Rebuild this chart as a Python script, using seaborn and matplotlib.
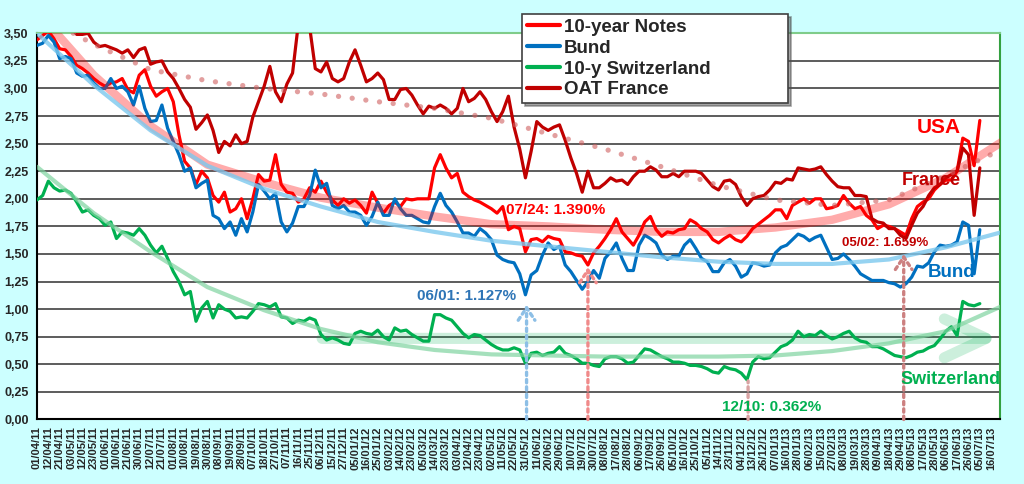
import numpy as np
import matplotlib
matplotlib.use("Agg")
import matplotlib.pyplot as plt
import seaborn as sns

# x axis labels, one every 7 trading days
tick_labels = [
    "01/04/11", "12/04/11", "21/04/11", "03/05/11", "12/05/11", "23/05/11", "01/06/11",
    "10/06/11", "21/06/11", "30/06/11", "12/07/11", "21/07/11", "01/08/11", "10/08/11",
    "19/08/11", "30/08/11", "08/09/11", "19/09/11", "28/09/11", "07/10/11", "18/10/11",
    "27/10/11", "07/11/11", "16/11/11", "25/11/11", "06/12/11", "15/12/11", "27/12/11",
    "05/01/12", "16/01/12", "25/01/12", "03/02/12", "14/02/12", "23/02/12", "05/03/12",
    "14/03/12", "23/03/12", "03/04/12", "12/04/12", "23/04/12", "02/05/12", "11/05/12",
    "22/05/12", "31/05/12", "11/06/12", "20/06/12", "29/06/12", "10/07/12", "19/07/12",
    "30/07/12", "08/08/12", "17/08/12", "28/08/12", "06/09/12", "17/09/12", "26/09/12",
    "05/10/12", "16/10/12", "25/10/12", "05/11/12", "14/11/12", "23/11/12", "04/12/12",
    "13/12/12", "26/12/12", "07/01/13", "16/01/13", "28/01/13", "06/02/13", "15/02/13",
    "27/02/13", "08/03/13", "19/03/13", "28/03/13", "09/04/13", "18/04/13", "29/04/13",
    "08/05/13", "17/05/13", "28/05/13", "06/06/13", "17/06/13", "26/06/13", "05/07/13",
    "16/07/13",
]

# yields (%), one reading every half label step
notes_us = [
    3.44, 3.48, 3.52, 3.45, 3.36, 3.35, 3.29, 3.21, 3.18, 3.14, 3.09, 3.05, 3.02, 3.05,
    3.06, 3.09, 2.99, 2.96, 3.12, 3.17, 3.02, 2.93, 2.97, 3.00, 2.88, 2.58, 2.34, 2.28,
    2.13, 2.25, 2.19, 2.03, 1.97, 2.06, 1.88, 1.91, 2.00, 1.82, 2.00, 2.22, 2.16, 2.17,
    2.40, 2.13, 2.06, 2.05, 1.97, 2.00, 2.10, 2.06, 2.16, 2.06, 1.99, 1.94, 2.00, 1.96,
    1.99, 1.94, 1.87, 2.06, 1.96, 1.87, 1.94, 1.97, 1.93, 2.00, 1.99, 2.00, 2.00, 2.00,
    2.28, 2.40, 2.28, 2.19, 2.23, 2.06, 2.02, 1.99, 1.97, 1.94, 1.91, 1.87, 1.93, 1.72,
    1.75,
    1.73, 1.52, 1.63, 1.64, 1.61, 1.66, 1.64, 1.63, 1.52, 1.51, 1.49, 1.48, 1.40, 1.51,
    1.57, 1.64, 1.72, 1.82, 1.70, 1.64, 1.58, 1.67, 1.79, 1.84, 1.72, 1.66, 1.70, 1.69,
    1.72, 1.73, 1.81, 1.78, 1.73, 1.70, 1.63, 1.60, 1.64, 1.67, 1.63, 1.61, 1.66,
    1.73, 1.77, 1.81, 1.85, 1.90, 1.90, 1.82, 1.94, 1.97, 2.00, 1.96, 2.00, 2.00, 1.91,
    1.92, 1.94, 2.03, 1.96, 1.91, 1.93, 1.85, 1.81, 1.73, 1.76, 1.75, 1.73, 1.70, 1.67,
    1.82, 1.93, 1.97, 2.00, 2.08, 2.13, 2.17, 2.17, 2.25, 2.55, 2.52, 2.30, 2.71,
]
bund = [
    3.39, 3.41, 3.48, 3.42, 3.27, 3.29, 3.27, 3.14, 3.11, 3.12, 3.05, 3.00, 3.00, 3.09,
    3.00, 3.02, 2.97, 2.85, 3.02, 2.82, 2.70, 2.71, 2.85, 2.64, 2.52, 2.40, 2.25, 2.28,
    2.10, 2.14, 2.17, 1.85, 1.82, 1.73, 1.79, 1.67, 1.82, 1.70, 1.88, 2.13, 2.07, 2.00,
    2.05, 1.79, 1.70, 1.78, 1.93, 1.93, 2.03, 2.26, 2.10, 2.14, 1.94, 1.91, 1.94, 1.88,
    1.88, 1.85, 1.76, 1.84, 1.97, 1.85, 1.85, 2.00, 1.91, 1.85, 1.85, 1.82, 1.79, 1.78,
    1.93, 2.05, 1.94, 1.88, 1.79, 1.69, 1.69, 1.66, 1.73, 1.69, 1.63, 1.49, 1.45, 1.43,
    1.42,
    1.32, 1.13, 1.31, 1.35, 1.49, 1.60, 1.54, 1.57, 1.40, 1.34, 1.26, 1.18, 1.25, 1.35,
    1.28, 1.46, 1.52, 1.60, 1.46, 1.35, 1.35, 1.58, 1.67, 1.64, 1.60, 1.49, 1.45, 1.48,
    1.48, 1.58, 1.63, 1.55, 1.46, 1.43, 1.34, 1.34, 1.42, 1.45, 1.39, 1.29, 1.32,
    1.42, 1.41, 1.39, 1.40, 1.51, 1.56, 1.58, 1.63, 1.68, 1.66, 1.62, 1.65, 1.67, 1.56,
    1.45, 1.46, 1.50, 1.45, 1.39, 1.32, 1.29, 1.26, 1.26, 1.26, 1.24, 1.23, 1.20, 1.23,
    1.29, 1.39, 1.38, 1.42, 1.52, 1.58, 1.57, 1.58, 1.61, 1.79, 1.76, 1.32, 1.72,
]
swiss = [
    1.99, 2.03, 2.16, 2.10, 2.07, 2.08, 2.05, 1.97, 1.88, 1.90, 1.85, 1.82, 1.76, 1.79,
    1.64, 1.70, 1.69, 1.67, 1.73, 1.67, 1.58, 1.51, 1.57, 1.46, 1.34, 1.25, 1.13, 1.16,
    0.89, 1.01, 1.07, 0.92, 1.04, 1.00, 0.98, 0.92, 0.93, 0.92, 0.98, 1.05, 1.04, 1.02,
    1.05, 0.93, 0.92, 0.87, 0.90, 0.89, 0.92, 0.90, 0.77, 0.72, 0.74, 0.72, 0.69, 0.68,
    0.78, 0.80, 0.78, 0.77, 0.81, 0.75, 0.72, 0.83, 0.80, 0.81, 0.77, 0.74, 0.71, 0.71,
    0.95, 0.95, 0.92, 0.90, 0.84, 0.78, 0.74, 0.77, 0.76, 0.72, 0.68, 0.65, 0.63, 0.63,
    0.65,
    0.63, 0.51, 0.60, 0.61, 0.58, 0.60, 0.61, 0.66, 0.60, 0.58, 0.55, 0.51, 0.51, 0.49,
    0.48, 0.55, 0.57, 0.57, 0.55, 0.51, 0.52, 0.58, 0.64, 0.63, 0.60, 0.57, 0.55, 0.52,
    0.52, 0.51, 0.49, 0.49, 0.48, 0.46, 0.43, 0.42, 0.48, 0.46, 0.45, 0.42, 0.36,
    0.52, 0.57, 0.55, 0.56, 0.61, 0.66, 0.68, 0.72, 0.80, 0.75, 0.77, 0.76, 0.80, 0.76,
    0.73, 0.75, 0.78, 0.80, 0.74, 0.71, 0.70, 0.66, 0.66, 0.64, 0.61, 0.58, 0.57, 0.56,
    0.58, 0.61, 0.62, 0.65, 0.67, 0.73, 0.80, 0.84, 0.76, 1.07, 1.04, 1.03, 1.05,
]
oat_france = [
    3.62, 3.66, 3.70, 3.66, 3.62, 3.60, 3.55, 3.49, 3.49, 3.50, 3.42, 3.38, 3.39, 3.37,
    3.35, 3.32, 3.35, 3.28, 3.35, 3.37, 3.22, 3.24, 3.25, 3.15, 3.09, 3.00, 2.90, 2.83,
    2.63, 2.69, 2.76, 2.62, 2.42, 2.52, 2.48, 2.58, 2.50, 2.52, 2.74, 2.88, 3.02, 3.20,
    2.97, 2.88, 3.04, 3.14, 3.58, 3.62, 3.56, 3.18, 3.15, 3.24, 3.09, 3.06, 3.09, 3.24,
    3.35, 3.21, 3.06, 3.09, 3.14, 3.08, 2.90, 2.90, 2.99, 3.00, 2.94, 2.85, 2.77, 2.84,
    2.82, 2.85, 2.82, 2.77, 2.82, 3.00, 2.88, 2.91, 2.97, 2.90, 2.79, 2.70, 2.79, 2.93,
    2.65,
    2.45, 2.19, 2.43, 2.70, 2.65, 2.62, 2.65, 2.67, 2.53, 2.37, 2.23, 2.06, 2.25, 2.10,
    2.10, 2.14, 2.19, 2.16, 2.17, 2.13, 2.20, 2.25, 2.25, 2.29, 2.26, 2.20, 2.20, 2.23,
    2.20, 2.25, 2.25, 2.25, 2.23, 2.17, 2.11, 2.08, 2.16, 2.17, 2.13, 2.02, 1.94,
    2.00, 2.02, 2.03, 2.08, 2.15, 2.14, 2.18, 2.17, 2.28, 2.27, 2.26, 2.27, 2.29, 2.22,
    2.16, 2.11, 2.10, 2.10, 2.03, 2.03, 2.02, 1.82, 1.79, 1.78, 1.73, 1.73, 1.67, 1.64,
    1.76, 1.87, 1.93, 2.03, 2.10, 2.13, 2.19, 2.22, 2.25, 2.46, 2.40, 1.85, 2.28,
]

# trend curves, read every 5 label steps
notes_trend = [3.70, 3.12, 2.66, 2.31, 2.15, 2.01, 1.92, 1.84, 1.77, 1.75, 1.72, 1.70,
               1.70, 1.74, 1.81, 1.95, 2.19, 2.52]
bund_trend = [3.50, 3.03, 2.62, 2.30, 2.09, 1.93, 1.79, 1.70, 1.62, 1.57, 1.52, 1.47,
              1.43, 1.41, 1.41, 1.45, 1.56, 1.70]
swiss_trend = [2.29, 1.87, 1.52, 1.20, 0.99, 0.82, 0.70, 0.63, 0.59, 0.58, 0.57, 0.57,
               0.57, 0.58, 0.62, 0.69, 0.80, 1.03]
oat_trend = [3.68, 3.40, 3.17, 3.07, 3.00, 2.95, 2.88, 2.82, 2.73, 2.59, 2.45, 2.29,
             2.12, 1.99, 1.94, 1.99, 2.21, 2.45]

sns.set_theme(style="white")
plt.rcParams["font.family"] = ["Liberation Sans", "DejaVu Sans"]

RED, BLUE, GREEN, DARKRED = "#FF0000", "#0070C0", "#00B050", "#C00000"

fig = plt.figure(figsize=(10.24, 4.84), dpi=100)
fig.patch.set_facecolor("#CCFFFF")
ax = fig.add_axes([0.0361, 0.1333, 0.9404, 0.7979])
ax.set_facecolor("white")

x = np.arange(len(notes_us)) * 0.5
xt = np.arange(len(notes_trend)) * 5.0

series = [("10-year Notes", notes_us, RED), ("Bund", bund, BLUE),
          ("10-y Switzerland", swiss, GREEN), ("OAT France", oat_france, DARKRED)]
for name, vals, col in series:
    sns.lineplot(x=x, y=vals, ax=ax, color=col, linewidth=2.3, label=name,
                 legend=False, zorder=3)
handles = ax.get_lines()[:4]
labels = [s[0] for s in series]

# trendlines
sns.lineplot(x=xt, y=notes_trend, ax=ax, color=RED, alpha=0.33, linewidth=6,
             legend=False, zorder=4)
sns.lineplot(x=xt, y=bund_trend, ax=ax, color="#7CC8EE", alpha=0.8, linewidth=3,
             legend=False, zorder=4)
sns.lineplot(x=xt, y=swiss_trend, ax=ax, color="#7FD4A0", alpha=0.7, linewidth=3,
             legend=False, zorder=4)
sns.lineplot(x=xt, y=oat_trend, ax=ax, color="#D06060", alpha=0.6, linewidth=3.8,
             linestyle=(0, (0.01, 2.6)), dash_capstyle="round", legend=False, zorder=4)

# big green arrow
ax.annotate("", xy=(84.7, 0.735), xytext=(25.1, 0.735),
            arrowprops=dict(arrowstyle="->,head_length=1.5,head_width=0.7", lw=8,
                            color=GREEN, alpha=0.2, shrinkA=0, shrinkB=0,
                            mutation_scale=20), zorder=2)

# dotted markers for the lows
def low_marker(xpos, ytop, col, head=True):
    style = "->,head_length=0.45,head_width=0.3" if head else "-"
    ax.annotate("", xy=(xpos, ytop), xytext=(xpos, 0),
                arrowprops=dict(arrowstyle=style, linestyle=(0, (1, 1.2)), lw=2.4,
                                color=col, shrinkA=0, shrinkB=0, mutation_scale=20),
                zorder=5, annotation_clip=False)

low_marker(43.1, 1.04, "#8DBFE6")
low_marker(48.5, 1.38, "#F08A8A")
low_marker(62.6, 0.35, "#D9A3A3", head=False)
low_marker(76.3, 1.50, "#CC8080")

txt = dict(fontweight="bold", zorder=6)
ax.text(42.2, 1.12, "06/01: 1.127%", color="#2E75B6", fontsize=11, ha="right", va="center", **txt)
ax.text(41.3, 1.90, "07/24: 1.390%", color=RED, fontsize=11, ha="left", va="center", **txt)
ax.text(70.9, 1.60, "05/02: 1.659%", color=DARKRED, fontsize=9.5, ha="left", va="center", **txt)
ax.text(60.3, 0.115, "12/10: 0.362%", color=GREEN, fontsize=11, ha="left", va="center", **txt)
ax.text(79.4, 2.65, "USA", color=RED, fontsize=15, ha="center", va="center", **txt)
ax.text(78.7, 2.17, "France", color=DARKRED, fontsize=13, ha="center", va="center", **txt)
ax.text(80.5, 1.33, "Bund", color=BLUE, fontsize=13.5, ha="center", va="center", **txt)
ax.text(80.4, 0.36, "Switzerland", color=GREEN, fontsize=13, ha="center", va="center", **txt)

# axes
ax.set_xlim(0, 84.77)
ax.set_ylim(0, 3.5)
ax.set_xticks(np.arange(len(tick_labels)))
ax.set_xticklabels(tick_labels, rotation=90, fontsize=8, fontweight="bold")
yt = np.arange(0, 3.51, 0.25)
ax.set_yticks(yt)
ax.set_yticklabels([f"{v:.2f}".replace(".", ",") for v in yt], fontsize=9, fontweight="bold")
ax.tick_params(axis="both", direction="out", length=4, width=1, color="black", pad=2)
ax.tick_params(axis="x", pad=1)
ax.yaxis.grid(True, color="#303030", linewidth=1.1)
ax.xaxis.grid(False)
ax.set_axisbelow(True)
ax.spines["left"].set_color("black")
ax.spines["bottom"].set_color("black")
ax.spines["top"].set_color("#7FCC8A")
ax.spines["right"].set_color("#33A040")
for s in ax.spines.values():
    s.set_linewidth(1.5)
    s.set_zorder(2.6)

leg = fig.legend(handles, labels, loc="upper left", mode="expand", borderaxespad=0,
                 bbox_to_anchor=(522 / 1024, 1 - 99 / 484, 266 / 1024, 85 / 484),
                 prop=dict(family=["Liberation Sans"], weight="bold", size=13.5),
                 frameon=True, fancybox=False, shadow=True, handlelength=1.8,
                 handletextpad=0.2, labelspacing=0.2, borderpad=0.25)
leg.get_frame().set_edgecolor("#404040")
leg.get_frame().set_linewidth(1.2)
for h in leg.get_lines():
    h.set_linewidth(3)

fig.savefig("out.png", dpi=100, facecolor=fig.get_facecolor())
